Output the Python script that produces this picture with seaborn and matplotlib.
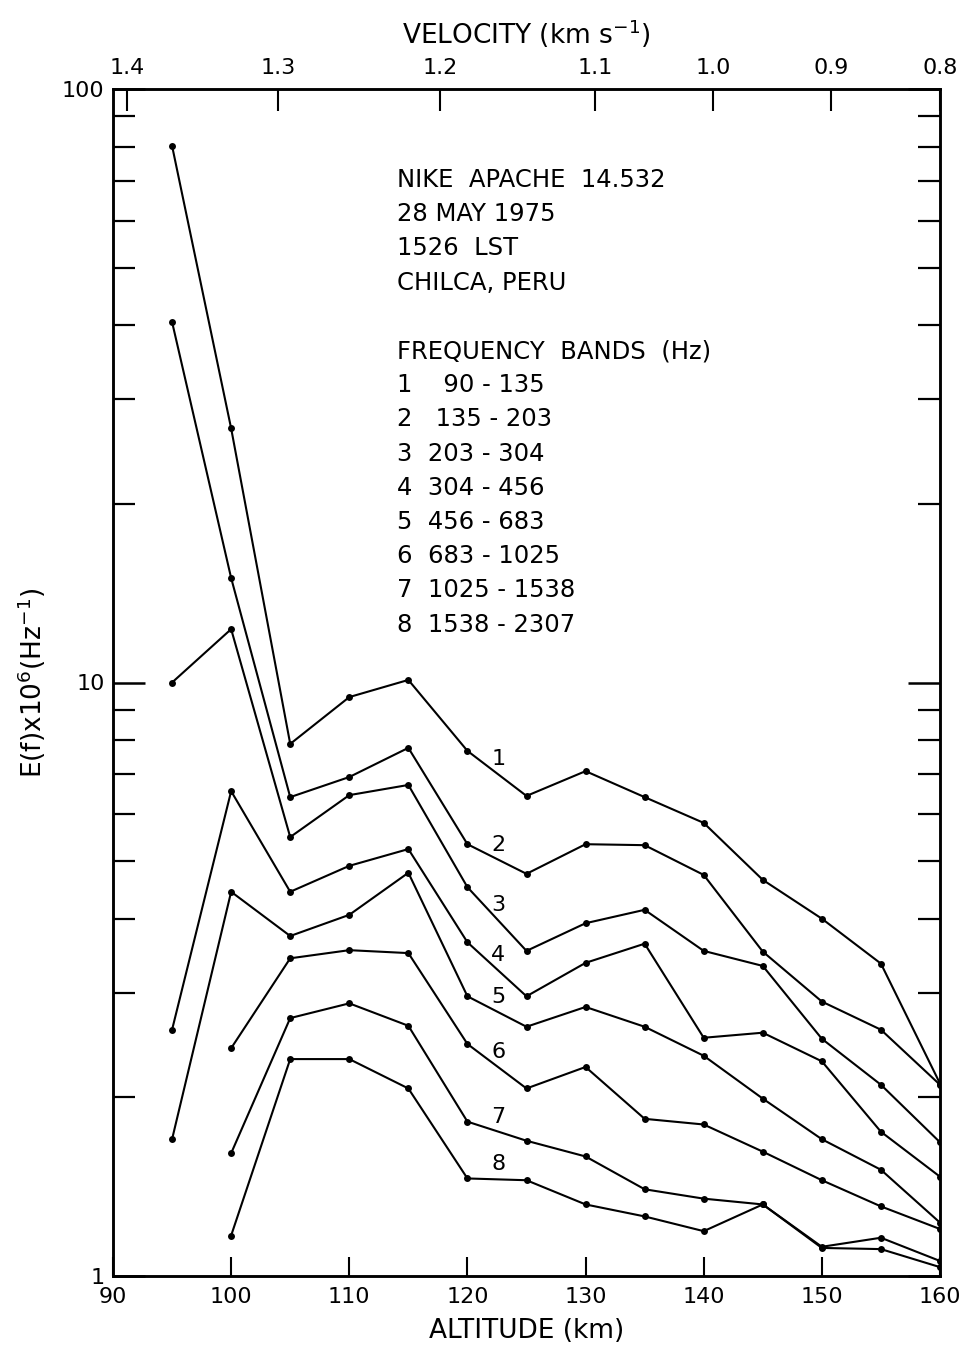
import numpy as np
import pandas as pd
import matplotlib
matplotlib.use("Agg")
import matplotlib.pyplot as plt
import seaborn as sns
from matplotlib.ticker import LogLocator, NullFormatter, FixedLocator

# ---------------- data ----------------
altitude = [95, 100, 105, 110, 115, 120, 125, 130, 135, 140, 145, 150, 155, 160]
nan = np.nan
band1 = [80.2, 26.8, 7.88, 9.45, 10.1, 7.67, 6.44, 7.09, 6.41, 5.80, 4.65, 4.00, 3.36, 2.11]
band2 = [40.5, 15.0, 6.41, 6.93, 7.76, 5.34, 4.76, 5.34, 5.32, 4.74, 3.52, 2.90, 2.60, 2.10]
band3 = [10.0, 12.3, 5.49, 6.46, 6.72, 4.52, 3.53, 3.93, 4.14, 3.53, 3.33, 2.51, 2.10, 1.68]
band4 = [2.60, 6.56, 4.44, 4.91, 5.24, 3.65, 2.96, 3.37, 3.63, 2.52, 2.57, 2.30, 1.75, 1.47]
band5 = [1.70, 4.44, 3.74, 4.06, 4.78, 2.96, 2.63, 2.84, 2.63, 2.35, 1.99, 1.70, 1.51, 1.23]
band6 = [nan, 2.42, 3.43, 3.54, 3.50, 2.46, 2.07, 2.25, 1.84, 1.80, 1.62, 1.45, 1.31, 1.20]
band7 = [nan, 1.61, 2.72, 2.88, 2.64, 1.82, 1.69, 1.59, 1.40, 1.35, 1.32, 1.12, 1.16, 1.06]
band8 = [nan, 1.17, 2.32, 2.32, 2.07, 1.46, 1.45, 1.32, 1.26, 1.19, 1.32, 1.115, 1.11, 1.035]
band_names = ["1", "2", "3", "4", "5", "6", "7", "8"]

alt_ticks = [90, 100, 110, 120, 130, 140, 150, 160]
y_ticks = [1, 10, 100]
y_ticklabels = ["1", "10", "100"]
vel_labels = ["1.4", "1.3", "1.2", "1.1", "1.0", "0.9", "0.8"]
vel_alt = [91.2, 104.0, 117.7, 130.8, 140.8, 150.8, 160.0]

info_lines = ["NIKE  APACHE  14.532", "28 MAY 1975", "1526  LST", "CHILCA, PERU", "",
              "FREQUENCY  BANDS  (Hz)",
              "1    90 - 135", "2   135 - 203", "3  203 - 304", "4  304 - 456",
              "5  456 - 683", "6  683 - 1025", "7  1025 - 1538", "8  1538 - 2307"]

# ---------------- styling ----------------
sns.set_theme(style="white")
plt.rcParams["font.family"] = ["DejaVu Sans"]
plt.rcParams.update({
    "text.color": "black", "axes.labelcolor": "black",
    "xtick.color": "black", "ytick.color": "black",
    "axes.edgecolor": "black", "axes.linewidth": 1.8,
})

bands = [band1, band2, band3, band4, band5, band6, band7, band8]
rows = []
for name, vals in zip(band_names, bands):
    for a, v in zip(altitude, vals):
        if not np.isnan(v):
            rows.append({"altitude": a, "E": v, "band": name})
df = pd.DataFrame(rows)

fig = plt.figure(figsize=(9.66, 13.6), dpi=100)
ax = fig.add_axes([113 / 966, 1 - 1276 / 1360, (940 - 113) / 966, (1276 - 89) / 1360])

sns.lineplot(data=df, x="altitude", y="E", hue="band", palette=["black"] * 8,
             marker="o", markersize=5, markeredgewidth=0, linewidth=1.5,
             estimator=None, sort=False, legend=False, ax=ax)

ax.set_yscale("log")
ax.set_xlim(90, 160)
ax.set_ylim(1, 100)

ax.xaxis.set_major_locator(FixedLocator(alt_ticks))
ax.set_xticklabels([str(t) for t in alt_ticks])
ax.yaxis.set_major_locator(FixedLocator(y_ticks))
ax.set_yticklabels(y_ticklabels)
ax.yaxis.set_minor_locator(LogLocator(base=10, subs=np.arange(2, 10)))
ax.yaxis.set_minor_formatter(NullFormatter())

ax.tick_params(axis="x", which="major", direction="in", length=14, width=1.5,
               labelsize=16, pad=8, top=False, bottom=True)
ax.tick_params(axis="y", which="major", direction="in", length=23, width=1.8,
               labelsize=16, pad=6, left=True, right=True)
ax.tick_params(axis="y", which="minor", direction="in", length=16, width=1.6,
               left=True, right=True)

ax.set_xlabel("ALTITUDE (km)", fontsize=19, labelpad=8)
ax.set_ylabel("E(f)x10$^{6}$(Hz$^{-1}$)", fontsize=19, labelpad=10)

ax2 = ax.twiny()
ax2.set_xlim(90, 160)
ax2.xaxis.set_major_locator(FixedLocator(vel_alt))
ax2.set_xticklabels(vel_labels)
ax2.tick_params(axis="x", direction="in", length=16, width=1.5, labelsize=16, pad=8)
ax2.set_xlabel("VELOCITY (km s$^{-1}$)", fontsize=19, labelpad=10)
for sp in ax2.spines.values():
    sp.set_linewidth(1.8)

# info text block
y0 = (1276 - 168) / 1187
dy = 34.2 / 1187
for i, line in enumerate(info_lines):
    if line:
        ax.text(0.343, y0 - i * dy, line, transform=ax.transAxes, fontsize=17.5,
                va="top", ha="left")

# curve labels just after the 120 km point
lab_alt = 122.6
for name, vals in zip(band_names, bands):
    v120 = vals[altitude.index(120)]
    v125 = vals[altitude.index(125)]
    f = (lab_alt - 120) / 5.0
    yv = 10 ** (np.log10(v120) * (1 - f) + np.log10(v125) * f) * 1.06
    ax.text(lab_alt, yv, name, fontsize=16, ha="center", va="center")

fig.savefig("out.png", dpi=100)
